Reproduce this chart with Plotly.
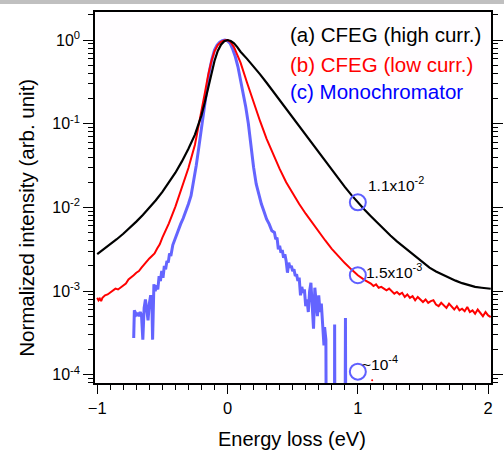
import numpy as np
import plotly.graph_objects as go

# ---- data (log10 of normalized intensity) ----
black_x = [-1.00, -0.95, -0.90, -0.85, -0.80, -0.75, -0.70, -0.65, -0.60, -0.55, -0.50, -0.45,
           -0.40, -0.35, -0.30, -0.25, -0.20, -0.175, -0.15, -0.125, -0.10, -0.075, -0.05, -0.025,
           0.00, 0.025, 0.05, 0.075, 0.10, 0.15, 0.20, 0.25, 0.30, 0.35, 0.40, 0.45, 0.50, 0.55,
           0.60, 0.65, 0.70, 0.75, 0.80, 0.85, 0.90, 0.95, 1.00, 1.05, 1.10, 1.15, 1.20, 1.25,
           1.30, 1.35, 1.40, 1.45, 1.50, 1.55, 1.60, 1.65, 1.70, 1.75, 1.80, 1.85, 1.90, 1.95,
           2.00, 2.02]
black_log = [-2.557, -2.50, -2.44, -2.38, -2.315, -2.245, -2.17, -2.09, -2.005, -1.915, -1.815, -1.705,
             -1.585, -1.45, -1.30, -1.13, -0.90, -0.75, -0.58, -0.40, -0.25, -0.13, -0.055, -0.014,
             0.0, -0.012, -0.04, -0.085, -0.14, -0.225, -0.315, -0.41, -0.51, -0.615, -0.72, -0.825, -0.93, -1.035,
             -1.14, -1.245, -1.35, -1.455, -1.555, -1.655, -1.755, -1.85, -1.94, -2.025, -2.105, -2.185, -2.26, -2.335,
             -2.405, -2.47, -2.535, -2.60, -2.665, -2.72, -2.765, -2.805, -2.84, -2.875, -2.905, -2.93, -2.95, -2.96,
             -2.967, -2.972]

red_x = [-1.00, -0.99, -0.98, -0.97, -0.96, -0.94, -0.92, -0.90, -0.88, -0.86, -0.84, -0.82,
         -0.80, -0.78, -0.76, -0.74, -0.72, -0.70, -0.68, -0.66, -0.64, -0.62, -0.60, -0.58,
         -0.56, -0.54, -0.52, -0.50, -0.45, -0.40, -0.35, -0.30, -0.25, -0.20, -0.175, -0.15,
         -0.125, -0.10, -0.075, -0.05, -0.025, 0.00, 0.025, 0.05, 0.075, 0.10, 0.15, 0.20, 0.25,
         0.30, 0.35, 0.40, 0.45, 0.50, 0.55, 0.60, 0.65, 0.70, 0.75, 0.80, 0.85, 0.90, 0.95,
         1.00, 1.05, 1.10, 1.12, 1.14, 1.16, 1.18, 1.20, 1.22, 1.24, 1.26, 1.28, 1.30, 1.32,
         1.34, 1.36, 1.38, 1.40, 1.42, 1.44, 1.46, 1.48, 1.50, 1.52, 1.54, 1.56, 1.58, 1.60,
         1.62, 1.64, 1.66, 1.68, 1.70, 1.72, 1.74, 1.76, 1.78, 1.80, 1.82, 1.84, 1.86, 1.88,
         1.90, 1.92, 1.94, 1.96, 1.98, 2.00, 2.02]
red_log = [-3.08, -3.11, -3.09, -3.12, -3.08, -3.05, -3.04, -3.02, -3.00, -2.97, -2.98, -2.96,
           -2.93, -2.91, -2.86, -2.84, -2.81, -2.78, -2.76, -2.72, -2.68, -2.65, -2.61, -2.58,
           -2.55, -2.49, -2.44, -2.36, -2.19, -1.99, -1.77, -1.53, -1.25, -0.87, -0.64, -0.43,
           -0.26, -0.135, -0.06, -0.022, -0.004, 0.0, -0.025, -0.085, -0.17, -0.27, -0.51, -0.75, -0.97,
           -1.18, -1.37, -1.54, -1.70, -1.835, -1.96, -2.075, -2.185, -2.29, -2.395, -2.495, -2.585, -2.665, -2.74,
           -2.81, -2.865, -2.91, -2.94, -2.92, -2.96, -2.95, -2.97, -2.99, -2.97, -3.00, -3.03, -3.01, -3.04,
           -3.02, -3.07, -3.04, -3.08, -3.06, -3.11, -3.07, -3.10, -3.13, -3.10, -3.14, -3.12, -3.11, -3.16,
           -3.18, -3.14, -3.17, -3.20, -3.15, -3.19, -3.22, -3.18, -3.23, -3.21, -3.24, -3.19, -3.25, -3.23,
           -3.27, -3.22, -3.26, -3.30, -3.25, -3.29, -3.31]

blue_x = [-0.72, -0.715, -0.70, -0.69, -0.68, -0.67, -0.66, -0.65, -0.64, -0.63, -0.62, -0.61,
          -0.60, -0.59, -0.58, -0.575, -0.565, -0.555, -0.545, -0.535, -0.525, -0.515, -0.505,
          -0.495, -0.485, -0.475, -0.465, -0.455, -0.445, -0.435, -0.42, -0.40, -0.38, -0.36,
          -0.34, -0.32, -0.30, -0.28, -0.26, -0.24, -0.22, -0.20, -0.18, -0.16, -0.14, -0.12,
          -0.10, -0.08, -0.06, -0.04, -0.02, 0.00, 0.02, 0.04, 0.06, 0.08, 0.10, 0.12, 0.14,
          0.16, 0.18, 0.20, 0.22, 0.24, 0.26, 0.28, 0.30, 0.32, 0.34, 0.36, 0.37, 0.38, 0.39,
          0.40, 0.41, 0.42, 0.43, 0.44, 0.45, 0.46, 0.47, 0.48, 0.49, 0.50, 0.51, 0.52, 0.53,
          0.54, 0.55, 0.56, 0.57, 0.58, 0.59, 0.60, 0.61, 0.62, 0.63, 0.64, 0.65, 0.66, 0.67,
          0.68, 0.69, 0.70, 0.71, 0.72, 0.73, 0.74, 0.745, 0.755, 0.76, 0.82, 0.822, 0.826,
          0.90, 0.905, 0.91]
blue_log = [-3.56, -3.23, -3.28, -3.26, -3.30, -3.25, -3.29, -3.58, -3.20, -3.10, -3.22, -3.35,
            -3.15, -3.05, -3.18, -3.58, -2.92, -3.00, -2.93, -2.98, -2.82, -2.88, -2.76,
            -2.84, -2.70, -2.74, -2.64, -2.66, -2.55, -2.58, -2.45, -2.36, -2.27, -2.20,
            -2.13, -2.05, -1.96, -1.86, -1.70, -1.50, -1.28, -1.05, -0.82, -0.58, -0.38, -0.23,
            -0.12, -0.06, -0.025, -0.008, 0.0, -0.01, -0.04, -0.11, -0.20, -0.32, -0.47, -0.63, -0.80,
            -1.00, -1.28, -1.52, -1.72, -1.86, -1.96, -2.05, -2.14, -2.20, -2.28, -2.30, -2.38, -2.36, -2.50,
            -2.46, -2.54, -2.51, -2.60, -2.56, -2.64, -2.78, -2.66, -2.72, -2.70, -2.76, -2.74, -2.82, -2.80,
            -2.88, -2.84, -3.05, -2.95, -3.02, -2.98, -3.18, -3.10, -3.25, -3.00, -2.90, -3.20, -3.45, -2.96,
            -3.10, -3.30, -3.05, -3.25, -3.15, -3.40, -3.65, -3.43, -3.58, -6.0, -6.0, -3.40, -6.0,
            -6.0, -3.32, -6.0]

mark_x = [1.0, 1.0, 1.0]
mark_y = [1.15e-2, 1.55e-3, 1.09e-4]
mark_labels = ["1.1x10<sup>-2</sup>", "1.5x10<sup>-3</sup>", "~10<sup>-4</sup>"]
label_x = [1.065, 1.05, 1.02]
label_y = [1.9e-2, 1.75e-3, 1.4e-4]

dot_x = [1.11]
dot_y = [8.6e-5]

legend_texts = ["(a) CFEG (high curr.)", "(b) CFEG (low curr.)", "(c) Monochromator"]
legend_colors = ["#000000", "#ff0000", "#0000ff"]
legend_py = [0.939, 0.859, 0.787]

ytick_vals = [1, 1e-1, 1e-2, 1e-3, 1e-4]
ytick_text = ["10<sup>0</sup>", "10<sup>-1</sup>", "10<sup>-2</sup>", "10<sup>-3</sup>", "10<sup>-4</sup>"]
xtick_vals = [-1, 0, 1, 2]

FONT = "Arial, 'Liberation Sans', sans-serif"
yminor = [m * 10.0 ** k for k in range(-5, 1) for m in range(2, 10)]
XR = [-1.017, 2.022]
YR = [-4.098, 0.335]

fig = go.Figure()
fig.add_trace(go.Scatter(x=blue_x, y=np.power(10.0, blue_log), mode="lines",
                         line=dict(color="#6464ff", width=3), showlegend=False))
fig.add_trace(go.Scatter(x=red_x, y=np.power(10.0, red_log), mode="lines",
                         line=dict(color="#ff0000", width=2), showlegend=False))
fig.add_trace(go.Scatter(x=black_x, y=np.power(10.0, black_log), mode="lines",
                         line=dict(color="#000000", width=2.2), showlegend=False))
fig.add_trace(go.Scatter(x=dot_x, y=dot_y, mode="markers",
                         marker=dict(color="#ff0000", size=2), showlegend=False))
fig.add_trace(go.Scatter(x=mark_x, y=mark_y, mode="markers",
                         marker=dict(symbol="circle-open", size=16, color="#5f5fff",
                                     line=dict(width=2, color="#5f5fff")),
                         showlegend=False, cliponaxis=False))
# invisible trace so the right-hand tick axis is drawn
fig.add_trace(go.Scatter(x=[0], y=[1], yaxis="y2", mode="markers",
                         marker=dict(opacity=0), showlegend=False, hoverinfo="skip"))

for t, c, py in zip(legend_texts, legend_colors, legend_py):
    fig.add_annotation(text=t, xref="paper", yref="paper", x=0.487, y=py,
                       xanchor="left", yanchor="middle", showarrow=False,
                       font=dict(family=FONT, size=20.5, color=c))
for t, lx, ly in zip(mark_labels, label_x, label_y):
    fig.add_annotation(text=t, x=lx, y=np.log10(ly), xanchor="left", yanchor="middle",
                       showarrow=False, font=dict(family=FONT, size=15.5, color="#000000"))

fig.add_annotation(text="Energy loss (eV)", xref="paper", yref="paper", x=0.497, y=-0.151,
                   xanchor="center", yanchor="middle", showarrow=False,
                   font=dict(family=FONT, size=20, color="#000000"))
fig.add_annotation(text="Normalized intensity (arb. unit)", xref="paper", yref="paper",
                   x=-0.172, y=0.445, textangle=-90, xanchor="center", yanchor="middle",
                   showarrow=False, font=dict(family=FONT, size=20.5, color="#000000"))

# grey strip at the very top of the picture
fig.add_shape(type="rect", xref="paper", yref="paper", x0=-0.3, x1=1.1,
              y0=1 + 8.0 / 371, y1=1 + 14.0 / 371, fillcolor="#c0c0c0", line=dict(width=0),
              layer="above")

axis_common = dict(showgrid=False, zeroline=False, showline=True, linecolor="#000000",
                   linewidth=1.5, ticks="outside", tickcolor="#000000", tickwidth=1.2)

fig.update_layout(
    width=504, height=450,
    margin=dict(l=95, r=13, t=12, b=67, autoexpand=False),
    paper_bgcolor="#ffffff", plot_bgcolor="#fffdff",
    font=dict(family=FONT, size=16, color="#000000"),
    xaxis=dict(axis_common, range=XR, tickvals=xtick_vals, ticklen=9, mirror=True,
               tickfont=dict(size=16.5),
               minor=dict(dtick=0.1, tick0=0, ticks="outside", ticklen=5,
                          tickcolor="#000000", tickwidth=1)),
    yaxis=dict(axis_common, type="log", range=YR, tickvals=ytick_vals, ticktext=ytick_text,
               ticklen=10, mirror=True, tickfont=dict(size=16),
               minor=dict(tickvals=yminor, ticks="outside", ticklen=5,
                          tickcolor="#000000", tickwidth=1)),
    yaxis2=dict(axis_common, type="log", range=YR, overlaying="y", side="right",
                tickvals=ytick_vals, showticklabels=False, ticklen=10,
                minor=dict(tickvals=yminor, ticks="outside", ticklen=5,
                           tickcolor="#000000", tickwidth=1)),
)

fig.write_html("out.html")
